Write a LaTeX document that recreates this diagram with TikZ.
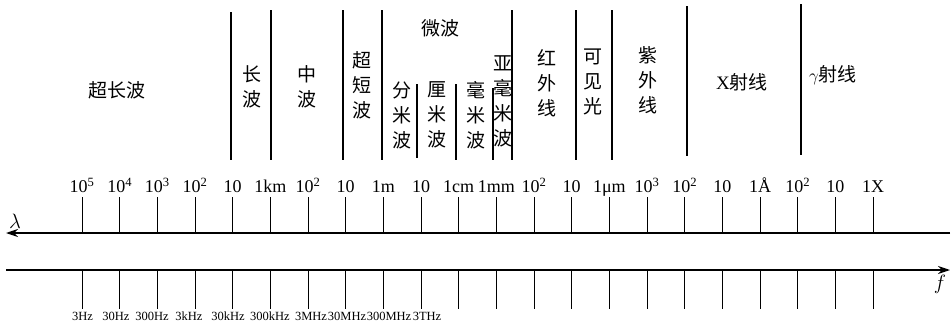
\documentclass[tikz,border=0pt]{standalone}
\usepackage{fontspec}
\setmainfont{Liberation Serif}
\newfontfamily\cjk{Noto Sans CJK SC}
\usetikzlibrary{arrows.meta}

\begin{document}
\begin{tikzpicture}
		[x=1pt,y=-1pt,line width=1pt,
		ax/.style={line width=1.3pt,-{Stealth[length=12pt,width=8pt]}},
		sep/.style={line width=1.2pt},
		band/.style={font=\cjk\fontsize{19}{25}\selectfont,align=center,inner sep=0pt},
		wl/.style={font=\fontsize{18}{18}\selectfont,anchor=south,inner sep=0pt,text height=14pt,text depth=4pt},
		fl/.style={font=\fontsize{12.5}{12.5}\selectfont,anchor=base,inner sep=0pt}]

		\useasboundingbox (0,0) rectangle (951,332);

		\coordinate (la) at (6,233);
		\coordinate (lb) at (950,233);
		\coordinate (fa) at (6,270);
		\coordinate (fb) at (950,270);
		\draw[ax] (lb) -- (la);
		\draw[ax] (fa) -- (fb);

		\node[font=\fontsize{20}{20}\selectfont] (lam) at (15,221) {$\lambda$};
		\node[font=\fontsize{20}{20}\selectfont] (f) at (940,284) {$f$};

		\foreach \w [count=\i from 0] in {10\textsuperscript{5},10\textsuperscript{4},10\textsuperscript{3},10\textsuperscript{2},10,1km,
			10\textsuperscript{2},10,1m,10,1cm,1mm,10\textsuperscript{2},10,1μm,10\textsuperscript{3},10\textsuperscript{2},10,1Å,10\textsuperscript{2},10,1X}
			{\node[wl] (w\i) at (82+37.67*\i,197) {\w};
			\draw (w\i.south) -- (w\i.south |- la);
			\coordinate (d\i) at (82+37.67*\i,309);
			\draw (d\i |- fa) -- (d\i);}

		\foreach \x/\v [count=\i from 0] in {82.5/3Hz,116/30Hz,152/300Hz,189/3kHz,228/30kHz,270/300kHz,311/3MHz,347/30MHz,389/300MHz,427/3THz}
			\node[fl] (v\i) at (\x,320) {\v};

		\draw[sep] (231,12) -- (231,160);
		\draw[sep] (271,10) -- (271,160);
		\draw[sep] (343,10) -- (343,160);
		\draw[sep] (382,10) -- (382,160);
		\draw[sep] (417,84) -- (417,158);
		\draw[sep] (456,84) -- (456,160);
		\draw[sep] (493,88) -- (493,160);
		\draw[sep] (512,10) -- (512,160);
		\draw[sep] (576,10) -- (576,160);
		\draw[sep] (612,10) -- (612,160);
		\draw[sep] (687,6) -- (687,156);
		\draw[sep] (801,4) -- (801,155);

		\node[band] (b1) at (117,90) {超长波};
		\node[band] (b2) at (252,87) {长\\波};
		\node[band] (b3) at (307,87) {中\\波};
		\node[band] (b4) at (362,85) {超\\短\\波};
		\node[band] (b5) at (440,28) {微波};
		\node[band] (b6) at (402,115) {分\\米\\波};
		\node[band] (b7) at (437,115) {厘\\米\\波};
		\node[band] (b8) at (476,115) {毫\\米\\波};
		\node[band] (b9) at (503,101) {亚\\毫\\米\\波};
		\node[band] (b10) at (547,83) {红\\外\\线};
		\node[band] (b11) at (593,82) {可\\见\\光};
		\node[band] (b12) at (648,80) {紫\\外\\线};
		\node[band] (b13) at (742,82) {{\rmfamily X}射线};
		\node[band] (b14) at (833,75) {$\gamma$射线};

	\end{tikzpicture}
\end{document}
